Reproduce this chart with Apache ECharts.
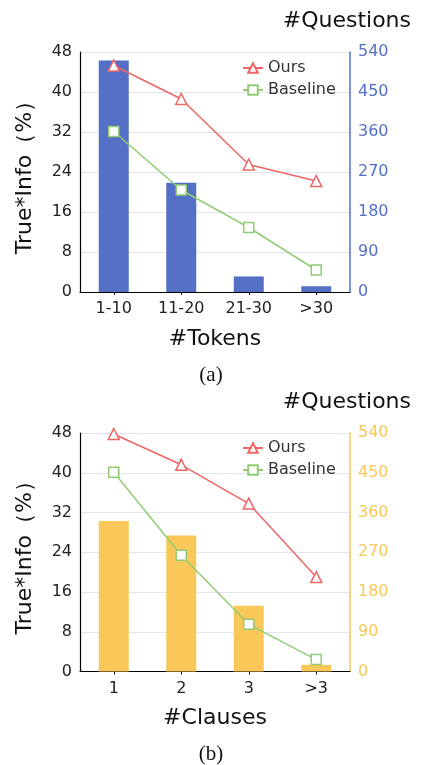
<!DOCTYPE html>
<html>
<head>
<meta charset="utf-8">
<script src="https://cdn.jsdelivr.net/npm/echarts@6/dist/echarts.min.js"></script>
<style>
html,body{margin:0;padding:0;background:#fff;}
#chart{width:422px;height:765px;}
</style>
</head>
<body>
<div id="chart"></div>
<script>
// ---- Data (a) ----
const catsA = ['1-10', '11-20', '21-30', '>30'];
const oursA = [45.3, 38.6, 25.5, 22.2];
const baseA = [32.1, 20.4, 12.9, 4.4];
const questionsA = [521, 246, 35, 13];
// ---- Data (b) ----
const catsB = ['1', '2', '3', '>3'];
const oursB = [47.8, 41.6, 33.8, 19.0];
const baseB = [40.1, 23.4, 9.5, 2.4];
const questionsB = [341, 308, 149, 15];
// ---- Axis ticks ----
const leftTicks = {min: 0, max: 48, interval: 8};
const rightTicks = {min: 0, max: 540, interval: 90};

const FONT = 'DejaVu Sans';
const RED = '#ee6666', GREEN = '#91cc75', BLUE = '#5470c6', YELLOW = '#fac858';

const chart = echarts.init(document.getElementById('chart'), null, {renderer: 'canvas'});

function xAxis(gi, cats, name) {
  return {
    type: 'category', gridIndex: gi, data: cats,
    axisLine: {lineStyle: {color: '#000', width: 1.2}},
    axisTick: {show: true, alignWithLabel: true, length: 3, lineStyle: {color: '#000'}},
    axisLabel: {fontFamily: FONT, fontSize: 16, color: '#222', margin: 9},
    name: name, nameLocation: 'middle', nameGap: 36,
    nameTextStyle: {fontFamily: FONT, fontSize: 22, color: '#111'}
  };
}
function leftAxis(gi) {
  return {
    type: 'value', gridIndex: gi, position: 'left',
    min: leftTicks.min, max: leftTicks.max, interval: leftTicks.interval,
    axisLine: {show: true, lineStyle: {color: '#000', width: 1.2}},
    axisTick: {show: false},
    splitLine: {show: true, lineStyle: {color: '#e0e6f1', width: 1.2}},
    axisLabel: {fontFamily: FONT, fontSize: 16, color: '#222', margin: 8},
    name: 'True*Info（%）', nameLocation: 'middle', nameGap: 44, nameRotate: 90,
    nameTextStyle: {fontFamily: FONT, fontSize: 22, color: '#111'}
  };
}
function rightAxis(gi, color) {
  return {
    type: 'value', gridIndex: gi, position: 'right',
    min: rightTicks.min, max: rightTicks.max, interval: rightTicks.interval,
    axisLine: {show: true, lineStyle: {color: color, width: 1.5}},
    axisTick: {show: false},
    splitLine: {show: false},
    axisLabel: {fontFamily: FONT, fontSize: 16, color: color, margin: 8}
  };
}
function lineSeries(name, data, xi, yi, color, symbol, size) {
  return {
    type: 'line', name: name, data: data, xAxisIndex: xi, yAxisIndex: yi,
    symbol: symbol, symbolSize: size, showAllSymbol: true, z: 5,
    lineStyle: {color: color, width: 1.5},
    itemStyle: {color: '#fff', borderColor: color, borderWidth: 1.5}
  };
}

const option = {
  animation: false,
  backgroundColor: '#fff',
  title: [
    {text: '#Questions', right: 6, top: 5, textStyle: {fontFamily: FONT, fontSize: 22, fontWeight: 'normal', color: '#111'}},
    {text: '(a)', left: 'center', top: 360, textStyle: {fontFamily: 'Liberation Serif', fontSize: 21, fontWeight: 'normal', color: '#111'}},
    {text: '#Questions', right: 6, top: 386, textStyle: {fontFamily: FONT, fontSize: 22, fontWeight: 'normal', color: '#111'}},
    {text: '(b)', left: 'center', top: 739, textStyle: {fontFamily: 'Liberation Serif', fontSize: 21, fontWeight: 'normal', color: '#111'}}
  ],
  legend: [
    {data: ['Ours', 'Baseline'], orient: 'vertical', left: 237, top: 55, itemWidth: 20, itemHeight: 12, itemGap: 6,
     textStyle: {fontFamily: FONT, fontSize: 16, color: '#333'}},
    {data: ['Ours ', 'Baseline '], orient: 'vertical', left: 237, top: 435, itemWidth: 20, itemHeight: 12, itemGap: 6,
     textStyle: {fontFamily: FONT, fontSize: 16, color: '#333'}}
  ],
  grid: [
    {left: 80, right: 72, top: 52, height: 240},
    {left: 80, right: 72, top: 433, height: 238.5}
  ],
  xAxis: [xAxis(0, catsA, '#Tokens'), xAxis(1, catsB, '#Clauses')],
  yAxis: [leftAxis(0), rightAxis(0, BLUE), leftAxis(1), rightAxis(1, YELLOW)],
  series: [
    {type: 'bar', name: 'Questions A', data: questionsA, xAxisIndex: 0, yAxisIndex: 1, barWidth: 30, itemStyle: {color: BLUE}, z: 2},
    lineSeries('Ours', oursA, 0, 0, RED, 'triangle', 11),
    lineSeries('Baseline', baseA, 0, 0, GREEN, 'rect', 10),
    {type: 'bar', name: 'Questions B', data: questionsB, xAxisIndex: 1, yAxisIndex: 3, barWidth: 30, itemStyle: {color: YELLOW}, z: 2},
    lineSeries('Ours ', oursB, 1, 2, RED, 'triangle', 11),
    lineSeries('Baseline ', baseB, 1, 2, GREEN, 'rect', 10)
  ]
};
chart.setOption(option);
</script>
</body>
</html>
